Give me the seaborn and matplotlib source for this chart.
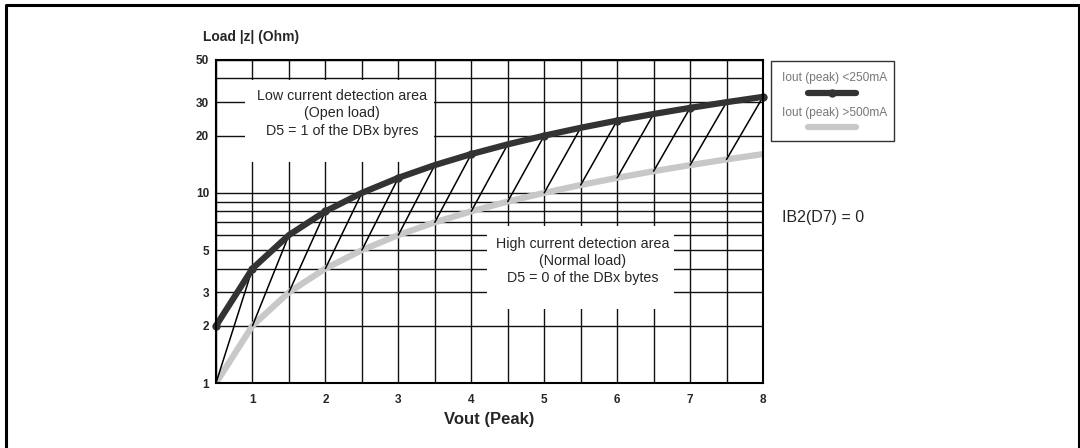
import matplotlib
matplotlib.use("Agg")
import matplotlib.pyplot as plt
from matplotlib.lines import Line2D
from matplotlib.patches import Rectangle
import seaborn as sns
import pandas as pd

# data
vout = [0.5, 1.0, 1.5, 2.0, 2.5, 3.0, 3.5, 4.0, 4.5, 5.0, 5.5, 6.0, 6.5, 7.0, 7.5, 8.0]
z_low = [2, 4, 6, 8, 10, 12, 14, 16, 18, 20, 22, 24, 26, 28, 30, 32]      # Iout (peak) <250mA
z_high = [1, 2, 3, 4, 5, 6, 7, 8, 9, 10, 11, 12, 13, 14, 15, 16]          # Iout (peak) >500mA
marker_idx = [0, 1, 3, 5, 7, 9, 11, 13, 15]
x_ticks = [1, 2, 3, 4, 5, 6, 7, 8]
y_ticks = [1, 2, 3, 5, 10, 20, 30, 50]
y_grid = [1, 2, 3, 4, 5, 6, 7, 8, 9, 10, 20, 30, 40, 50]
x_grid = vout

dark = "#333333"
light = "#c8c8c8"

sns.set_style("white")
plt.rcParams["font.family"] = ["Liberation Sans", "DejaVu Sans"]

fig = plt.figure(figsize=(10.8, 4.48), dpi=100)
W, H = 1080, 448
ax = fig.add_axes([216 / W, 1 - 383 / H, 547 / W, 323 / H])

df = pd.DataFrame({"vout": vout, "low": z_low, "high": z_high})

ax.set_yscale("log")
ax.set_xlim(0.5, 8)
ax.set_ylim(1, 50)

# grid
for g in y_grid:
    ax.axhline(g, color="#111111", lw=1.0, zorder=1)
for g in x_grid:
    ax.axvline(g, color="#111111", lw=1.0, zorder=1)

# white boxes behind the annotations
ax.add_patch(Rectangle((29 / 547, (383 - 162) / 323), 189 / 547, 82 / 323,
                       transform=ax.transAxes, facecolor="white", edgecolor="none", zorder=2))
ax.add_patch(Rectangle((271 / 547, (383 - 309) / 323), 187 / 547, 83 / 323,
                       transform=ax.transAxes, facecolor="white", edgecolor="none", zorder=2))

# curves
sns.lineplot(data=df, x="vout", y="high", ax=ax, color=light, lw=4.5, zorder=3,
             solid_capstyle="round")
for i in range(len(vout) - 1):
    ax.plot([vout[i], vout[i + 1]], [z_high[i], z_low[i + 1]], color="black", lw=1.1, zorder=4)
sns.lineplot(data=df, x="vout", y="low", ax=ax, color=dark, lw=4.5, zorder=5,
             marker="o", markersize=6, markevery=marker_idx, markeredgewidth=0,
             solid_capstyle="round", clip_on=False)

ax.set_xticks(x_ticks)
ax.set_xticklabels([str(t) for t in x_ticks], fontsize=8.5, fontweight="bold")
ax.set_yticks(y_ticks)
ax.set_yticks([], minor=True)
ax.set_yticklabels([str(t) for t in y_ticks], fontsize=8.5, fontweight="bold")
ax.tick_params(axis="both", length=0)
ax.tick_params(axis="x", pad=8)
ax.tick_params(axis="y", pad=5)

for s in ax.spines.values():
    s.set_color("black")
    s.set_linewidth(1.5)
    s.set_zorder(6)

ax.set_xlabel("Vout (Peak)", fontsize=12, fontweight="bold", labelpad=4)
ax.set_ylabel("")
ax.text(-13 / 547, (383 - 37) / 323, "Load |z| (Ohm)", transform=ax.transAxes,
        fontsize=10, fontweight="bold", ha="left", va="center")

ax.text(126 / 547, (383 - 113.5) / 323,
        "Low current detection area\n(Open load)\nD5 = 1 of the DBx byres",
        transform=ax.transAxes, ha="center", va="center", fontsize=10.3,
        linespacing=1.3, zorder=7)
ax.text(367 / 547, (383 - 261) / 323,
        "High current detection area\n(Normal load)\nD5 = 0 of the DBx bytes",
        transform=ax.transAxes, ha="center", va="center", fontsize=10.3,
        linespacing=1.3, zorder=7)

# legend drawn by hand (text above the sample line)
fig.patches.append(Rectangle((770.5 / W, 1 - 141 / H), 123 / W, 80 / H,
                             transform=fig.transFigure, facecolor="white",
                             edgecolor="#333333", lw=1.0))
fig.text(835 / W, 1 - 78 / H, "Iout (peak) <250mA", ha="center", va="center",
         fontsize=8.6, color="#777777")
fig.lines.append(Line2D([808 / W, 856 / W], [1 - 93 / H, 1 - 93 / H], transform=fig.transFigure,
                        color=dark, lw=4.5, solid_capstyle="round"))
fig.lines.append(Line2D([832 / W], [1 - 93 / H], transform=fig.transFigure,
                        color=dark, marker="o", markersize=6, markeredgewidth=0))
fig.text(835 / W, 1 - 113 / H, "Iout (peak) >500mA", ha="center", va="center",
         fontsize=8.6, color="#777777")
fig.lines.append(Line2D([808 / W, 856 / W], [1 - 127.5 / H, 1 - 127.5 / H], transform=fig.transFigure,
                        color=light, lw=4.5, solid_capstyle="round"))

fig.text(782 / W, 1 - 217 / H, "IB2(D7) = 0", ha="left", va="center", fontsize=11.5)

# outer frame
fig.lines.append(Line2D([6 / W, 6 / W, 1078.5 / W, 1078.5 / W], [0, 1 - 5 / H, 1 - 5 / H, 0],
                        transform=fig.transFigure, color="black", lw=2.2))

fig.savefig("out.png", dpi=100)
